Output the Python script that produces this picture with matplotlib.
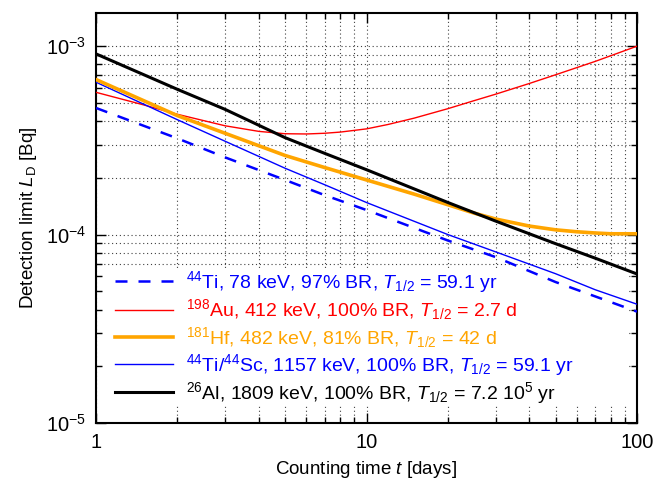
import numpy as np
import matplotlib
matplotlib.use("Agg")
import matplotlib.pyplot as plt
from matplotlib.patches import Rectangle
from matplotlib.ticker import LogLocator, NullFormatter

plt.rcParams['font.family'] = ['Liberation Sans', 'DejaVu Sans']
plt.rcParams['mathtext.fontset'] = 'custom'
plt.rcParams['mathtext.rm'] = 'Liberation Sans'
plt.rcParams['mathtext.it'] = 'Liberation Sans:italic'
plt.rcParams['mathtext.bf'] = 'Liberation Sans:bold'

# counting time [days] and detection limit L_D [Bq] for each line
t_ti44 = [1, 2, 3, 5, 7, 10, 20, 30, 50, 70, 100]
ti44_78 = [4.7e-4, 3.24e-4, 2.57e-4, 1.95e-4, 1.62e-4, 1.35e-4, 9.3e-5, 7.6e-5, 5.6e-5, 4.7e-5, 3.9e-5]
ti44_sc44 = [6.44e-4, 4.07e-4, 3.13e-4, 2.25e-4, 1.84e-4, 1.48e-4, 1.0e-4, 8.1e-5, 6.2e-5, 5.1e-5, 4.27e-5]
al26 = [9.1e-4, 5.9e-4, 4.62e-4, 3.27e-4, 2.7e-4, 2.21e-4, 1.48e-4, 1.18e-4, 8.95e-5, 7.5e-5, 6.18e-5]

t_au = [1, 1.5, 2, 3, 4, 5, 6, 7, 8, 10, 12, 15, 20, 25, 30, 40, 50, 70, 100]
au198 = [5.69e-4, 4.88e-4, 4.35e-4, 3.78e-4, 3.53e-4, 3.43e-4, 3.42e-4, 3.45e-4, 3.5e-4, 3.64e-4,
         3.84e-4, 4.15e-4, 4.66e-4, 5.14e-4, 5.56e-4, 6.34e-4, 7.05e-4, 8.3e-4, 1.0e-3]

t_hf = [1, 2, 3, 5, 7, 10, 15, 20, 25, 30, 40, 50, 60, 70, 80, 100]
hf181 = [6.65e-4, 4.28e-4, 3.45e-4, 2.63e-4, 2.27e-4, 1.95e-4, 1.64e-4, 1.44e-4, 1.3e-4, 1.21e-4,
         1.11e-4, 1.06e-4, 1.035e-4, 1.02e-4, 1.01e-4, 1.01e-4]

labels = [
    r'$^{44}$Ti, 78 keV, 97% BR, $T_{1/2}$ = 59.1 yr',
    r'$^{198}$Au, 412 keV, 100% BR, $T_{1/2}$ = 2.7 d',
    r'$^{181}$Hf, 482 keV, 81% BR, $T_{1/2}$ = 42 d',
    r'$^{44}$Ti/$^{44}$Sc, 1157 keV, 100% BR, $T_{1/2}$ = 59.1 yr',
    r'$^{26}$Al, 1809 keV, 100% BR, $T_{1/2}$ = 7.2 10$^{5}$ yr',
]
colors = ['#0000ff', '#ff0000', '#ffa500', '#0000ff', '#000000']

xticks = [1, 10, 100]
xticklabels = ['1', '10', '100']
yticks = [1e-5, 1e-4, 1e-3]
yticklabels = [r'$10^{-5}$', r'$10^{-4}$', r'$10^{-3}$']

fig = plt.figure(figsize=(6.54, 4.87), dpi=100)
ax = fig.add_axes([0.1468, 0.1314, 0.8272, 0.8419])

ax.plot(t_ti44, ti44_78, color=colors[0], lw=1.8, ls=(0, (4.8, 4.4)), label=labels[0], zorder=3)
ax.plot(t_au, au198, color=colors[1], lw=1.0, label=labels[1], zorder=4)
ax.plot(t_hf, hf181, color=colors[2], lw=2.6, label=labels[2], zorder=5)
ax.plot(t_ti44, ti44_sc44, color=colors[3], lw=1.0, label=labels[3], zorder=4)
ax.plot(t_ti44, al26, color=colors[4], lw=2.2, label=labels[4], zorder=6)

ax.set_xscale('log')
ax.set_yscale('log')
ax.set_xlim(1, 100)
ax.set_ylim(1e-5, 1.5e-3)

ax.set_xticks(xticks)
ax.set_xticklabels(xticklabels)
ax.set_yticks(yticks)
ax.set_yticklabels(yticklabels)
ax.xaxis.set_minor_locator(LogLocator(base=10, subs=np.arange(2, 10)))
ax.yaxis.set_minor_locator(LogLocator(base=10, subs=np.arange(2, 10)))
ax.xaxis.set_minor_formatter(NullFormatter())
ax.yaxis.set_minor_formatter(NullFormatter())

ax.tick_params(which='both', direction='in', top=True, right=True, labelsize=14.5, width=1.0)
ax.tick_params(which='major', length=7, pad=7)
ax.tick_params(which='minor', length=4)
for sp in ax.spines.values():
    sp.set_linewidth(1.5)

ax.grid(True, which='both', color='0.25', ls=(0, (1, 2.5)), lw=0.8)
ax.set_axisbelow(True)

# white band behind the key hides the grid but not the curves
ax.add_patch(Rectangle((0.015, 0.044), 0.97, 0.334, transform=ax.transAxes,
                       facecolor='white', edgecolor='none', zorder=1))

ax.set_xlabel(r'Counting time $t$ [days]', fontsize=13.5, labelpad=5)
ax.set_ylabel(r'Detection limit $L_{\mathrm{D}}$ [Bq]', fontsize=13.5, labelpad=5)

leg = ax.legend(loc='lower left', bbox_to_anchor=(0.028, 0.032), borderaxespad=0,
                frameon=False, fontsize=14, handlelength=3.0, handletextpad=0.65,
                labelspacing=0.12, borderpad=0.2)
leg.set_zorder(10)
for txt, c in zip(leg.get_texts(), colors):
    txt.set_color(c)

fig.savefig('out.png', dpi=100)
